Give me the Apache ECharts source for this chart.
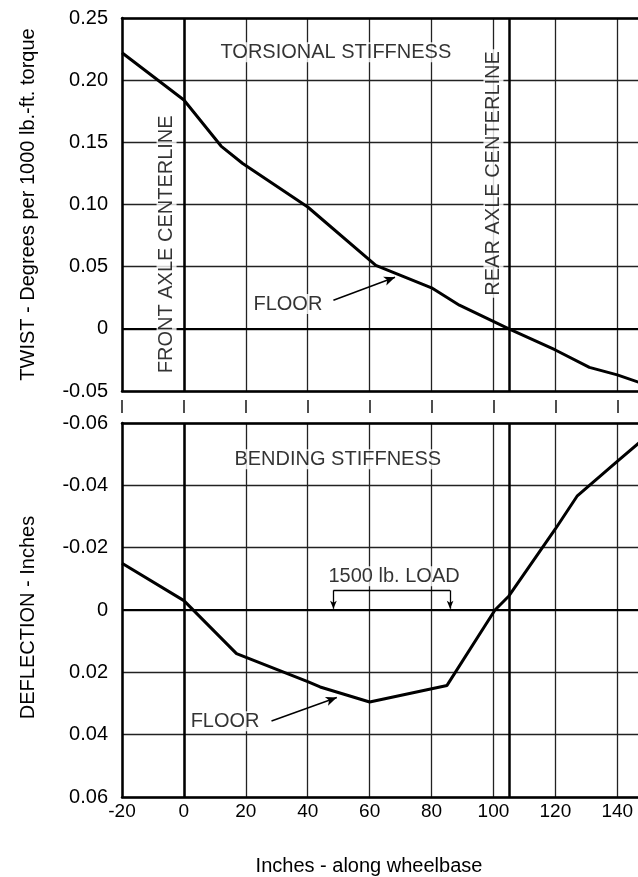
<!DOCTYPE html>
<html><head><meta charset="utf-8">
<script src="https://cdn.jsdelivr.net/npm/echarts@6/dist/echarts.min.js"></script>
<style>html,body{margin:0;padding:0;background:#fff}#c{width:638px;height:877px}</style>
</head><body><div id="c"></div>
<script>
// ---- data ----
const twistX = [-20, 0, 12, 19, 40, 62, 80, 89, 105, 120, 131, 140, 147];
const twistY = [0.222, 0.184, 0.147, 0.133, 0.098, 0.051, 0.033, 0.019, 0.0, -0.017, -0.031, -0.037, -0.043];
const deflX = [-20, 0, 17, 40, 44, 60, 85, 100.5, 105, 120, 127, 140, 147];
const deflY = [-0.015, -0.003, 0.014, 0.023, 0.0247, 0.0295, 0.0242, 0.0, -0.0045, -0.026, -0.0365, -0.0477, -0.0536];
const axleLines = [0, 105];           // front / rear axle centerline (inches)
const loadSpan = [48.3, 86];          // 1500 lb. load application points
const xRange = [-20, 146.7, 20];      // the picture is cut at the right edge
const twistRange = [-0.05, 0.25, 0.05];
const deflRange = [-0.06, 0.06, 0.02];
const texts = {
  yTop: 'TWIST - Degrees per 1000 lb.-ft. torque',
  yBottom: 'DEFLECTION - Inches',
  x: 'Inches - along wheelbase',
  torsion: 'TORSIONAL STIFFNESS',
  bending: 'BENDING STIFFNESS',
  front: 'FRONT AXLE CENTERLINE',
  rear: 'REAR AXLE CENTERLINE',
  floor: 'FLOOR',
  load: '1500 lb. LOAD'
};

const FONT = "'Liberation Sans', Arial, Helvetica, sans-serif";
const INK = '#000';
const zip = (a, b) => a.map((v, i) => [v, b[i]]);
const fmt = v => Math.abs(v) < 1e-9 ? '0' : v.toFixed(2);
const border = { show: true, onZero: false, lineStyle: { color: INK, width: 2.5 } };

function xAxis(gi, opts) {
  return Object.assign({
    type: 'value', gridIndex: gi, min: xRange[0], max: xRange[1], interval: xRange[2],
    axisLine: { show: false }, axisTick: { show: false },
    axisLabel: { show: false },
    splitLine: { show: false }
  }, opts);
}
function yAxis(gi, r, inverse, name, pad) {
  return {
    type: 'value', gridIndex: gi, min: r[0], max: r[1], interval: r[2], inverse: inverse,
    axisLine: border, axisTick: { show: false },
    axisLabel: { fontSize: 20, fontFamily: FONT, color: INK, margin: 14, formatter: fmt },
    splitLine: { show: true, lineStyle: { color: '#222', width: 1.3 } },
    name: name, nameLocation: 'middle', nameGap: 84, nameRotate: 90,
    nameTextStyle: { fontSize: 20, fontFamily: FONT, color: INK, padding: pad }
  };
}
const vGrid = w => ({ show: true, showMaxLine: false, lineStyle: { color: '#222', width: w } });

function annot(xi, yi, items) {
  return {
    type: 'scatter', xAxisIndex: xi, yAxisIndex: yi, z: 6, symbolSize: 1,
    itemStyle: { color: 'rgba(0,0,0,0)' }, silent: true,
    data: items.map(it => ({
      value: it.v, name: it.t,
      label: {
        show: true, position: 'inside', formatter: '{b}', rotate: it.r || 0,
        fontSize: 20, fontFamily: FONT, color: INK, backgroundColor: '#fff', padding: [0, 2]
      }
    }))
  };
}
const seg = (a, b, w, endSym, size) => [
  { coord: a, symbol: 'none', lineStyle: { width: w } },
  { coord: b, symbol: endSym || 'none', symbolSize: size || 8 }
];
function frame(yr) {
  const lines = axleLines.map(x => seg([x, yr[0]], [x, yr[1]], 2.5));
  lines.push(seg([xRange[0], 0], [xRange[1], 0], 2));
  return lines;
}

const option = {
  backgroundColor: '#fff',
  animation: false,
  grid: [
    { left: 122, right: 0, top: 18, height: 373 },
    { left: 122, right: 0, top: 400, height: 13 },
    { left: 122, right: 0, top: 423, height: 374 }
  ],
  xAxis: [
    xAxis(0, { position: 'bottom', axisLine: border, splitLine: vGrid(1.3) }),
    xAxis(0, { position: 'top', axisLine: border }),
    xAxis(1, { splitLine: vGrid(1.6) }),
    xAxis(2, {
      position: 'bottom', axisLine: border, splitLine: vGrid(1.3),
      axisLabel: { show: true, showMaxLabel: false, fontSize: 19, fontFamily: FONT, color: INK, margin: 5 }
    }),
    xAxis(2, { position: 'top', axisLine: border })
  ],
  yAxis: [
    yAxis(0, twistRange, false, texts.yTop, [0, 0, 0, 0]),
    { type: 'value', gridIndex: 1, min: 0, max: 1, show: false, splitLine: { show: false } },
    yAxis(2, deflRange, true, texts.yBottom, [0, 15, 0, 0])
  ],
  graphic: [{
    type: 'text', x: 369, y: 866,
    style: { text: texts.x, font: '20px ' + FONT, fill: INK, textAlign: 'center', textVerticalAlign: 'middle' }
  }],
  series: [
    {
      type: 'line', xAxisIndex: 0, yAxisIndex: 0, z: 4, data: zip(twistX, twistY),
      showSymbol: false, symbol: 'none', lineStyle: { color: INK, width: 3 },
      markLine: {
        silent: true, symbol: ['none', 'none'], label: { show: false },
        lineStyle: { color: INK, width: 2.5, type: 'solid' },
        data: [
          ...frame(twistRange),
          seg([48.3, 0.023], [68.2, 0.0415], 1.5, 'arrow', [7, 11])
        ]
      }
    },
    {
      type: 'line', xAxisIndex: 3, yAxisIndex: 2, z: 4, data: zip(deflX, deflY),
      showSymbol: false, symbol: 'none', lineStyle: { color: INK, width: 3 },
      markLine: {
        silent: true, symbol: ['none', 'none'], label: { show: false },
        lineStyle: { color: INK, width: 2.5, type: 'solid' },
        data: [
          ...frame(deflRange),
          seg([28.3, 0.0356], [49.4, 0.0281], 1.5, 'arrow', [7, 11]),
          seg([loadSpan[0], -0.0063], [loadSpan[1], -0.0063], 1.3),
          seg([loadSpan[0], -0.0063], [loadSpan[0], -0.0004], 1.3, 'arrow', [5, 8]),
          seg([loadSpan[1], -0.0063], [loadSpan[1], -0.0004], 1.3, 'arrow', [5, 8])
        ]
      }
    },
    annot(0, 0, [
      { t: texts.torsion, v: [49.1, 0.2225] },
      { t: texts.front, v: [-5.6, 0.068], r: 90 },
      { t: texts.rear, v: [100, 0.125], r: 90 },
      { t: texts.floor, v: [33.6, 0.0199] }
    ]),
    annot(3, 2, [
      { t: texts.bending, v: [49.7, -0.0484] },
      { t: texts.load, v: [67.9, -0.0108] },
      { t: texts.floor, v: [13.3, 0.0357] }
    ])
  ]
};
echarts.init(document.getElementById('c'), null, { renderer: 'canvas' }).setOption(option);
</script></body></html>
